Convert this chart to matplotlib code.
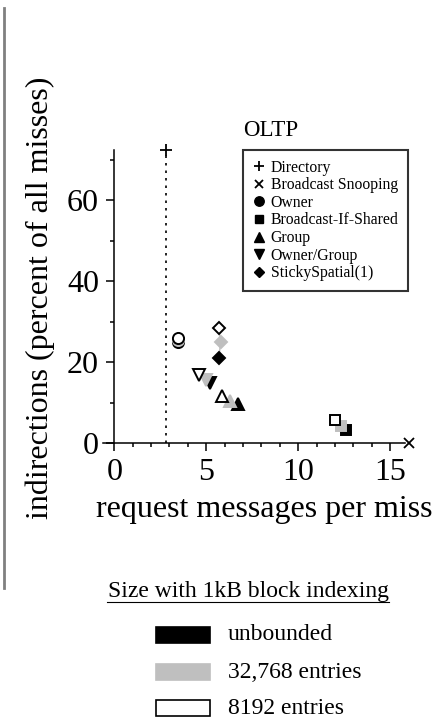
import matplotlib
matplotlib.use("Agg")
import matplotlib.pyplot as plt
from matplotlib.lines import Line2D
from matplotlib.patches import Rectangle

plt.rcParams['font.family'] = ['Liberation Serif', 'DejaVu Serif']

# --- Data ---
SIZES = ["unbounded", "32,768 entries", "8192 entries"]
SIZE_FACE = ["black", "#bfbfbf", "white"]
SIZE_EDGE = ["black", "#bfbfbf", "black"]

PROTOCOLS = ["Owner", "Broadcast-If-Shared", "Group", "Owner/Group", "StickySpatial(1)"]
MARKERS = ["o", "s", "^", "v", "D"]
MSIZE = [8, 7.5, 8, 8, 6]
# x = request messages per miss, y = indirections; order: unbounded, 32768, 8192
X_VALS = {
    "Owner": [3.45, 3.45, 3.47],
    "Broadcast-If-Shared": [12.59, 12.32, 12.0],
    "Group": [6.74, 6.32, 5.87],
    "Owner/Group": [5.23, 5.0, 4.63],
    "StickySpatial(1)": [5.69, 5.78, 5.69],
}
Y_VALS = {
    "Owner": [25.0, 25.4, 26.0],
    "Broadcast-If-Shared": [3.2, 4.2, 5.7],
    "Group": [9.7, 10.3, 11.7],
    "Owner/Group": [14.8, 15.6, 16.9],
    "StickySpatial(1)": [20.9, 24.9, 28.5],
}
DIRECTORY = (2.82, 72.5)
SNOOPING = (16.0, 0.0)

fig = plt.figure(figsize=(4.43, 7.21), dpi=100)
ax = fig.add_axes([0.2164, 0.3688, 0.7307, 0.4373])
ax.set_xlim(-1.0, 16.6)
ax.set_ylim(-3, 75)

# directory: dotted drop line + marker
ax.plot([DIRECTORY[0], DIRECTORY[0]], [0, DIRECTORY[1]], ls=(0, (1.5, 3)), color="black", lw=1.2, zorder=2)
ax.plot(*DIRECTORY, marker="+", ms=8, mew=1.3, color="black", zorder=4, clip_on=False)
ax.plot(*SNOOPING, marker="x", ms=7, mew=1.3, color="black", zorder=4, clip_on=False)

for p, m, ms in zip(PROTOCOLS, MARKERS, MSIZE):
    ax.plot(X_VALS[p], Y_VALS[p], color="#bfbfbf", lw=1, zorder=3)
    for i in range(3):
        ax.plot(X_VALS[p][i], Y_VALS[p][i], marker=m, ms=ms, mfc=SIZE_FACE[i],
                mec=SIZE_EDGE[i], mew=1.4, ls="none", zorder=4 + i)

# axes styling
for s in ["top", "right"]:
    ax.spines[s].set_visible(False)
ax.spines["left"].set_position(("data", 0))
ax.spines["bottom"].set_position(("data", 0))
ax.spines["left"].set_bounds(0, 72.5)
ax.spines["bottom"].set_bounds(-0.6, 15.8)
ax.spines["left"].set_linewidth(1.1)
ax.spines["bottom"].set_linewidth(1.1)

ax.set_xticks([0, 5, 10, 15])
ax.set_xticks(range(0, 16), minor=True)
ax.set_yticks([0, 20, 40, 60])
ax.set_yticks([10, 30, 50, 70], minor=True)
ax.tick_params(which="major", direction="out", length=6, width=1.1, labelsize=23, pad=5)
ax.tick_params(which="minor", direction="out", length=3, width=1.1)
ax.tick_params(axis="y", which="major", pad=5)

ax.text(8.5, 77.3, "OLTP", ha="center", va="center", fontsize=16.5)

fig.text(40 / 443, 1 - 298 / 721, "indirections (percent of all misses)",
         rotation=90, ha="center", va="center", fontsize=23)
fig.text(264 / 443, 1 - 509 / 721, "request messages per miss",
         ha="center", va="center", fontsize=23)

# protocol legend
handles = [Line2D([], [], marker="+", ls="none", color="black", ms=7, mew=1.3),
           Line2D([], [], marker="x", ls="none", color="black", ms=6, mew=1.3)]
for m, ms in zip(MARKERS, MSIZE):
    handles.append(Line2D([], [], marker=m, ls="none", color="black", ms=ms * 0.85))
labels = ["Directory", "Broadcast Snooping"] + PROTOCOLS
leg = fig.legend(handles, labels, loc="upper left",
                 bbox_to_anchor=(243 / 443, 1 - 150 / 721), fontsize=11.3,
                 frameon=True, fancybox=False, edgecolor="black",
                 handlelength=0.8, handletextpad=0.35, labelspacing=0.1,
                 borderpad=0.62, borderaxespad=0)
leg.get_frame().set_linewidth(1.5)

# gray bar on the left
fig.add_artist(Line2D([4 / 443, 4 / 443], [1 - 8 / 721, 1 - 588 / 721],
                      color="#808080", lw=2))

# size legend
t = fig.text(248 / 443, 1 - 591 / 721, "Size with 1kB block indexing",
             ha="center", va="center", fontsize=17)
fig.canvas.draw()
bb = t.get_window_extent().transformed(fig.transFigure.inverted())
fig.add_artist(Line2D([bb.x0, bb.x1], [1 - 602 / 721, 1 - 602 / 721], color="black", lw=0.8))

ys = [635, 672, 708]
for lab, fc, y in zip(SIZES, SIZE_FACE, ys):
    fig.add_artist(Rectangle((156 / 443, 1 - (y + 8) / 721), 54 / 443, 16 / 721,
                             facecolor=fc, edgecolor="black" if fc != "#bfbfbf" else fc,
                             lw=1.2, transform=fig.transFigure))
    fig.text(228 / 443, 1 - y / 721, lab, ha="left", va="center", fontsize=17)

fig.savefig("out.png", dpi=100)
